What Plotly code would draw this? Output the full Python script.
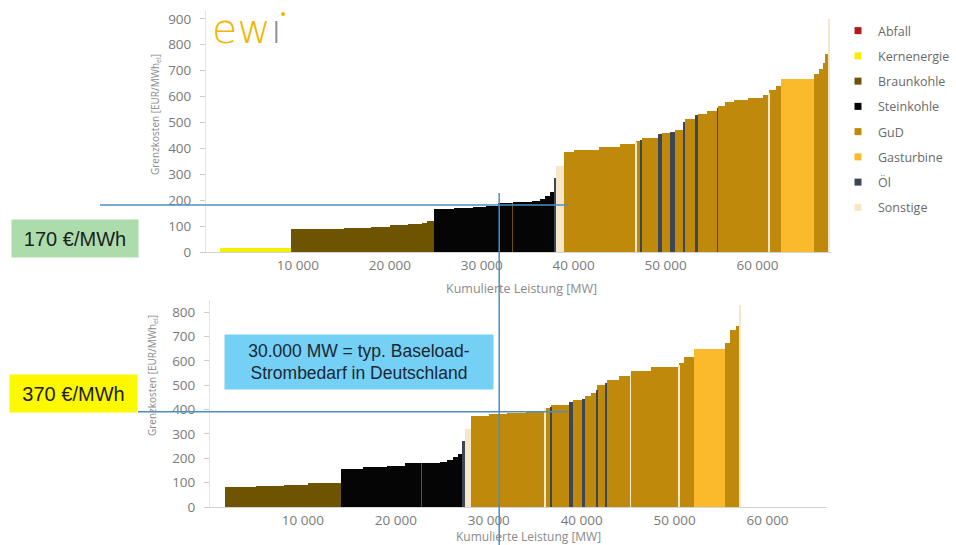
import numpy as np
import plotly.graph_objects as go

W, H = 956, 545

fuels = ["Abfall", "Kernenergie", "Braunkohle", "Steinkohle", "GuD", "Gasturbine", "Öl", "Sonstige"]
fuel_colors = ["#b01c1c", "#f4f000", "#6e5400", "#050505", "#bf8a0c", "#fbb92c", "#3c4654", "#f4e8c8"]

# ---- top merit order (fuel, capacity MW, marginal cost EUR/MWh) ----
top_fuel = ["Abfall", "Kernenergie",
            "Braunkohle", "Braunkohle", "Braunkohle", "Braunkohle", "Braunkohle", "Braunkohle", "Braunkohle", "Braunkohle",
            "Steinkohle", "Steinkohle", "Steinkohle", "Steinkohle", "Steinkohle", "Braunkohle", "Steinkohle",
            "Steinkohle", "Steinkohle", "Steinkohle", "Steinkohle",
            "Öl", "Sonstige",
            "GuD", "GuD", "GuD", "GuD", "Sonstige", "GuD", "Öl", "GuD", "Öl", "GuD", "Öl", "GuD", "Öl", "GuD",
            "Öl", "GuD", "GuD", "Öl", "GuD", "GuD", "GuD", "GuD", "GuD", "Sonstige", "GuD", "GuD",
            "Gasturbine", "GuD", "GuD", "GuD", "GuD", "Sonstige"]
top_cap = [1500, 7700,
           2800, 3000, 3000, 2000, 2000, 1500, 500, 800,
           2200, 2000, 1500, 1300, 1500, 150, 2050,
           800, 600, 500, 500,
           200, 800,
           1100, 2800, 2200, 1700, 100, 500, 150, 1750, 400, 900, 500, 900, 200, 1200,
           200, 1000, 1100, 100, 800, 900, 1600, 1600, 600, 100, 700, 600,
           3600, 500, 400, 300, 300, 150]
top_cost = [0, 15,
            87, 90, 94, 98, 103, 108, 113, 120,
            165, 168, 172, 178, 188, 190, 193,
            197, 206, 216, 230,
            285, 330,
            386, 395, 405, 418, 425, 428, 432, 440, 455, 458, 462, 470, 500, 515,
            528, 532, 545, 556, 562, 578, 588, 596, 605, 615, 625, 640,
            668, 688, 705, 730, 765, 900]

# ---- bottom merit order ----
bot_fuel = ["Abfall",
            "Braunkohle", "Braunkohle", "Braunkohle", "Braunkohle",
            "Steinkohle", "Steinkohle", "Steinkohle", "Steinkohle", "Braunkohle", "Steinkohle", "Steinkohle",
            "Steinkohle", "Steinkohle", "Steinkohle",
            "Öl", "Sonstige",
            "GuD", "GuD", "GuD", "GuD", "Sonstige", "GuD", "Öl", "GuD", "Öl", "GuD", "Öl", "GuD", "GuD", "Öl",
            "GuD", "Öl", "GuD", "GuD", "Sonstige", "GuD", "GuD", "Sonstige", "GuD", "GuD",
            "Gasturbine", "GuD", "GuD", "GuD", "Sonstige"]
bot_cap = [1600,
           3400, 3000, 2500, 3600,
           2400, 2500, 2000, 1700, 120, 1980, 700,
           700, 500, 500,
           200, 700,
           1900, 2000, 2000, 2000, 100, 500, 150, 1850, 500, 900, 400, 600, 600, 100,
           900, 150, 1250, 1200, 100, 2200, 2900, 100, 500, 1100,
           3300, 600, 600, 400, 150]
bot_cost = [0,
            82, 85, 89, 100,
            158, 165, 170, 180, 180, 182, 186,
            195, 205, 218,
            270, 320,
            375, 382, 388, 396, 405, 408, 412, 420, 430, 440, 445, 455, 470, 480,
            500, 510, 520, 537, 545, 560, 575, 585, 590, 615,
            648, 672, 725, 742, 830]

price_top = 181        # horizontal marker line, top chart
price_bottom = 391     # horizontal marker line, bottom chart
baseload_mw = 31900    # vertical marker line

x_ticks = [10000, 20000, 30000, 40000, 50000, 60000]
x_ticktext = ["10 000", "20 000", "30 000", "40 000", "50 000", "60 000"]
y_ticks_top = [0, 100, 200, 300, 400, 500, 600, 700, 800, 900]
y_ticks_bot = [0, 100, 200, 300, 400, 500, 600, 700, 800]

fig = go.Figure()


def add_blocks(fuel_list, cap_list, cost_list, xa, ya):
    cap = np.array(cap_list, dtype=float)
    cost = np.array(cost_list, dtype=float)
    start = np.concatenate([[0], np.cumsum(cap)[:-1]])
    centers = start + cap / 2
    fl = np.array(fuel_list)
    for f, c in zip(fuels, fuel_colors):
        m = fl == f
        if not m.any():
            continue
        fig.add_trace(go.Bar(
            x=centers[m], y=cost[m], width=cap[m], base=0,
            marker=dict(color=c, line=dict(width=0)),
            name=f, showlegend=False, xaxis=xa, yaxis=ya,
            hovertemplate=f + ": %{y} EUR/MWh<extra></extra>"))


add_blocks(top_fuel, top_cap, top_cost, "x", "y")
add_blocks(bot_fuel, bot_cap, bot_cost, "x2", "y2")

# legend entries
for f, c in zip(fuels, fuel_colors):
    fig.add_trace(go.Scatter(x=[None], y=[None], mode="markers", name=f, legendgroup=f,
                             marker=dict(symbol="square", size=7, color=c),
                             xaxis="x", yaxis="y"))

tickfont = dict(family="Open Sans", size=13.5, color="#7a7a7a")


def px_x(p):
    return p / W


def px_y(p):
    return 1 - p / H


axis_common = dict(showgrid=False, zeroline=False, tickfont=tickfont, fixedrange=True)
xaxis_common = dict(tickvals=x_ticks, ticktext=x_ticktext, showline=True, linecolor="#d4d4d4",
                    ticks="", ticklabelstandoff=1, **axis_common)
yaxis_common = dict(ticks="outside", ticklen=5, tickcolor="#cccccc", ticklabelstandoff=6,
                    showline=True, linecolor="#e4e4e4", **axis_common)

fig.update_layout(
    width=W, height=H,
    margin=dict(l=0, r=0, t=0, b=0, autoexpand=False),
    paper_bgcolor="white", plot_bgcolor="white",
    barmode="overlay", bargap=0,
    font=dict(family="Open Sans", color="#6a6a6a"),
    xaxis=dict(domain=[px_x(206), px_x(831)], range=[0, 68000], anchor="y", **xaxis_common),
    yaxis=dict(domain=[px_y(252), px_y(11)], range=[0, 930], anchor="x", tickvals=y_ticks_top,
               **yaxis_common),
    xaxis2=dict(domain=[px_x(210), px_x(827)], range=[0, 66400], anchor="y2", **xaxis_common),
    yaxis2=dict(domain=[px_y(507), px_y(300)], range=[0, 850], anchor="x2", tickvals=y_ticks_bot,
                **yaxis_common),
    legend=dict(x=px_x(838), y=px_y(16), xanchor="left", yanchor="top",
                font=dict(family="Open Sans", size=12.5, color="#6a6a6a"),
                tracegroupgap=6, itemwidth=30, bgcolor="rgba(0,0,0,0)"),
    showlegend=True,
)

line_col = "#4a8fbf"
fig.add_shape(type="line", xref="paper", yref="y", x0=px_x(100), x1=px_x(568),
              y0=price_top, y1=price_top, line=dict(color=line_col, width=1.5))
fig.add_shape(type="line", xref="paper", yref="y2", x0=px_x(138), x1=px_x(568),
              y0=price_bottom, y1=price_bottom, line=dict(color=line_col, width=1.5))
fig.add_shape(type="line", xref="x", yref="paper", x0=baseload_mw, x1=baseload_mw,
              y0=0, y1=px_y(193), line=dict(color=line_col, width=1.5))

ann = dict(xref="paper", yref="paper", showarrow=False, xanchor="center", yanchor="middle")

# axis titles
title_font = dict(family="Open Sans", size=12.5, color="#8a8a8a")
fig.add_annotation(text="Kumulierte Leistung [MW]", x=px_x(521), y=px_y(288), font=title_font, **ann)
fig.add_annotation(text="Kumulierte Leistung [MW]", x=px_x(528), y=px_y(536),
                   font=dict(family="Open Sans", size=12, color="#8a8a8a"), **ann)
ytitle_font = dict(family="Open Sans", size=10, color="#8a8a8a")
fig.add_annotation(text="Grenzkosten [EUR/MWh<sub>el</sub>]", x=px_x(155), y=px_y(115),
                   textangle=-90, font=ytitle_font, **ann)
fig.add_annotation(text="Grenzkosten [EUR/MWh<sub>el</sub>]", x=px_x(152), y=px_y(376),
                   textangle=-90, font=ytitle_font, **ann)

# labelled boxes
box_font = dict(family="Liberation Sans", size=20, color="#1e1e1e")
fig.add_annotation(text="170 €/MWh", x=px_x(75), y=px_y(238), width=126, height=37,
                   bgcolor="#acdcac", borderpad=0, font=box_font, **ann)
fig.add_annotation(text="370 €/MWh", x=px_x(73.5), y=px_y(393.5), width=127, height=37,
                   bgcolor="#fcf800", borderpad=0, font=box_font, **ann)
fig.add_annotation(text="30.000 MW = typ. Baseload-<br>Strombedarf in Deutschland", x=px_x(359), y=px_y(362),
                   width=268, height=54, bgcolor="#74d0f4", borderpad=0,
                   font=dict(family="Liberation Sans", size=17.5, color="#1c2733"), **ann)

# ewi logo
fig.add_annotation(text='ew<span style="color:#8c8c8c">ı</span>', x=px_x(210), y=px_y(29),
                   xref="paper", yref="paper", xanchor="left", yanchor="middle", showarrow=False,
                   font=dict(family="DejaVu Sans", size=41, color="#f4b400", weight=200))
fig.add_shape(type="circle", xref="paper", yref="paper", x0=px_x(281), x1=px_x(285),
              y0=px_y(16), y1=px_y(12), fillcolor="#f4b400", line=dict(width=0))

fig.write_html("out.html", config={"displayModeBar": False},
               post_script="document.body.style.margin='0';")
